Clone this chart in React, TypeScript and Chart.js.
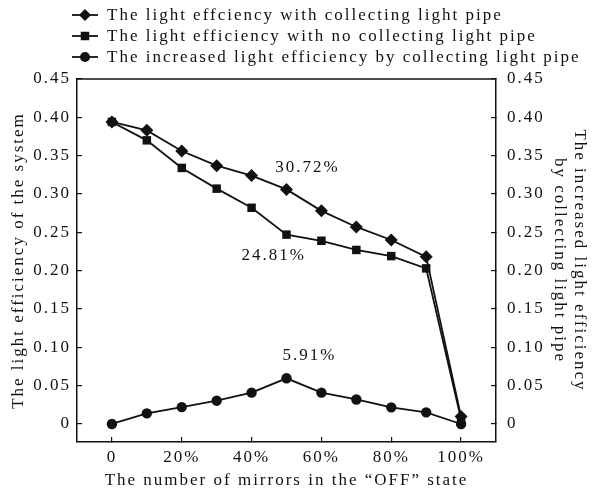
import React, { useEffect, useRef } from 'react';
import { Chart, registerables } from 'chart.js';

Chart.register(...registerables);

// ---- data ----
const mirrorsOff = [0, 10, 20, 30, 40, 50, 60, 70, 80, 90, 100];
const withPipe = [0.394, 0.383, 0.356, 0.337, 0.324, 0.306, 0.278, 0.257, 0.240, 0.218, 0.0096];
const withoutPipe = [0.394, 0.370, 0.334, 0.307, 0.282, 0.247, 0.239, 0.227, 0.219, 0.203, 0.006];
const increased = [0.0, 0.0139, 0.022, 0.0304, 0.0409, 0.0596, 0.0409, 0.032, 0.0217, 0.0152, 0.0];
const seriesNames = [
  'The light effciency with collecting light pipe',
  'The light efficiency with no collecting light pipe',
  'The increased light efficiency by collecting light pipe',
];
const xTickValues = [0, 20, 40, 60, 80, 100];
const yTickValues = [0, 0.05, 0.1, 0.15, 0.2, 0.25, 0.3, 0.35, 0.4, 0.45];
const annotationTexts = ['30.72%', '24.81%', '5.91%'];
const annotationX = [56, 46.3, 56.6];
const annotationY = [0.334, 0.22, 0.0887];

const FONT_FAMILY = "'Liberation Serif', 'Times New Roman', serif";
const FONT_SIZE = 17;
const TEXT_COLOR = '#111';
const SPACING = '2px';

function drawMarker(ctx: CanvasRenderingContext2D, style: string, x: number, y: number, r: number) {
  ctx.beginPath();
  if (style === 'rectRot') {
    ctx.moveTo(x, y - r);
    ctx.lineTo(x + r, y);
    ctx.lineTo(x, y + r);
    ctx.lineTo(x - r, y);
    ctx.closePath();
  } else if (style === 'rect') {
    const s = r * Math.SQRT1_2;
    ctx.rect(x - s, y - s, 2 * s, 2 * s);
  } else {
    ctx.arc(x, y, r, 0, Math.PI * 2);
  }
  ctx.fill();
}

const spacingPlugin = {
  id: 'spacing',
  beforeLayout(chart: any) {
    chart.ctx.letterSpacing = SPACING;
  },
  beforeDraw(chart: any) {
    chart.ctx.letterSpacing = SPACING;
  },
};

const decorPlugin = {
  id: 'decor',
  afterDatasetsDraw(chart: any) {
    const ctx = chart.ctx as CanvasRenderingContext2D;
    const xs = chart.scales.x;
    const ys = chart.scales.y;
    ctx.save();
    (ctx as any).letterSpacing = SPACING;
    ctx.font = `${FONT_SIZE}px ${FONT_FAMILY}`;
    ctx.fillStyle = TEXT_COLOR;
    ctx.textAlign = 'center';
    ctx.textBaseline = 'middle';
    annotationTexts.forEach((t, i) => {
      ctx.fillText(t, xs.getPixelForValue(annotationX[i]), ys.getPixelForValue(annotationY[i]));
    });
    ctx.restore();
  },
  afterDraw(chart: any) {
    const ctx = chart.ctx as CanvasRenderingContext2D;
    const area = chart.chartArea;
    ctx.save();
    // top frame line
    ctx.strokeStyle = TEXT_COLOR;
    ctx.lineWidth = 1.5;
    ctx.beginPath();
    ctx.moveTo(area.left, area.top);
    ctx.lineTo(area.right, area.top);
    ctx.stroke();
    // legend
    (ctx as any).letterSpacing = SPACING;
    ctx.font = `${FONT_SIZE}px ${FONT_FAMILY}`;
    ctx.textAlign = 'left';
    ctx.textBaseline = 'middle';
    chart.data.datasets.forEach((ds: any, i: number) => {
      const y = 15 + i * 21;
      ctx.strokeStyle = TEXT_COLOR;
      ctx.fillStyle = TEXT_COLOR;
      ctx.lineWidth = 1.8;
      ctx.beginPath();
      ctx.moveTo(72, y);
      ctx.lineTo(98, y);
      ctx.stroke();
      drawMarker(ctx, ds.pointStyle, 85, y, ds.legendRadius);
      ctx.fillText(ds.label, 107, y + 1);
    });
    ctx.restore();
  },
};

export default function App() {
  const canvasRef = useRef<HTMLCanvasElement | null>(null);

  useEffect(() => {
    if (!canvasRef.current) return;
    const font = { family: FONT_FAMILY, size: FONT_SIZE };
    const toPts = (arr: number[]) => mirrorsOff.map((x, i) => ({ x, y: arr[i] }));
    const common = {
      borderColor: TEXT_COLOR,
      backgroundColor: TEXT_COLOR,
      pointBackgroundColor: TEXT_COLOR,
      pointBorderColor: TEXT_COLOR,
      borderWidth: 1.8,
      pointBorderWidth: 0,
      tension: 0,
      fill: false,
    };
    const chart = new Chart(canvasRef.current, {
      type: 'line',
      data: {
        datasets: [
          { ...common, label: seriesNames[0], data: toPts(withPipe), pointStyle: 'rectRot', pointRadius: 6.5, legendRadius: 6, order: 1 } as any,
          { ...common, label: seriesNames[1], data: toPts(withoutPipe), pointStyle: 'rect', pointRadius: 6, legendRadius: 6, order: 2 } as any,
          { ...common, label: seriesNames[2], data: toPts(increased), pointStyle: 'circle', pointRadius: 5.2, legendRadius: 5, order: 3 } as any,
        ],
      },
      options: {
        animation: false,
        responsive: true,
        maintainAspectRatio: false,
        layout: { padding: { top: 79, left: 0, right: 0, bottom: 0 } },
        plugins: {
          legend: { display: false },
          tooltip: { enabled: false },
        },
        scales: {
          x: {
            type: 'linear',
            min: -10,
            max: 110,
            afterBuildTicks: (s: any) => {
              s.ticks = xTickValues.map((v) => ({ value: v }));
            },
            afterFit: (s: any) => {
              s.height = 51;
            },
            ticks: {
              autoSkip: false,
              maxRotation: 0,
              padding: 10,
              color: TEXT_COLOR,
              font,
              callback: (v: any) => (v === 0 ? '0' : `${v}%`),
            },
            grid: { drawOnChartArea: false, tickLength: -5, color: TEXT_COLOR, lineWidth: 1.2 },
            border: { display: true, color: TEXT_COLOR, width: 1.5 },
            title: {
              display: true,
              text: 'The number of mirrors in the “OFF” state',
              color: TEXT_COLOR,
              font,
              padding: { top: 0, bottom: 2 },
            },
          },
          y: {
            type: 'linear',
            position: 'left',
            min: -0.0235,
            max: 0.45,
            afterBuildTicks: (s: any) => {
              s.ticks = yTickValues.map((v) => ({ value: v }));
            },
            afterFit: (s: any) => {
              s.width = 77;
            },
            ticks: {
              autoSkip: false,
              padding: 11,
              color: TEXT_COLOR,
              font,
              callback: (v: any) => (v === 0 ? '0' : Number(v).toFixed(2)),
            },
            grid: { drawOnChartArea: false, tickLength: -5, color: TEXT_COLOR, lineWidth: 1.2 },
            border: { display: true, color: TEXT_COLOR, width: 1.5 },
            title: {
              display: true,
              text: 'The light efficiency of the system',
              color: TEXT_COLOR,
              font,
              padding: { top: 8, bottom: 0 },
            },
          },
          y1: {
            type: 'linear',
            position: 'right',
            min: -0.0235,
            max: 0.45,
            afterBuildTicks: (s: any) => {
              s.ticks = yTickValues.map((v) => ({ value: v }));
            },
            afterFit: (s: any) => {
              s.width = 97;
            },
            ticks: {
              autoSkip: false,
              padding: 16,
              color: TEXT_COLOR,
              font,
              callback: (v: any) => (v === 0 ? '0' : Number(v).toFixed(2)),
            },
            grid: { drawOnChartArea: false, tickLength: -5, color: TEXT_COLOR, lineWidth: 1.2 },
            border: { display: true, color: TEXT_COLOR, width: 1.5 },
            title: {
              display: true,
              text: ['The increased light efficiency', 'by collecting light pipe'],
              color: TEXT_COLOR,
              font,
              padding: { top: 3, bottom: 0 },
            },
          },
        },
      } as any,
      plugins: [spacingPlugin, decorPlugin],
    });
    return () => chart.destroy();
  }, []);

  return (
    <div style={{ position: 'fixed', left: 0, top: 0, width: 593, height: 493, background: '#fff' }}>
      <canvas ref={canvasRef} />
    </div>
  );
}
